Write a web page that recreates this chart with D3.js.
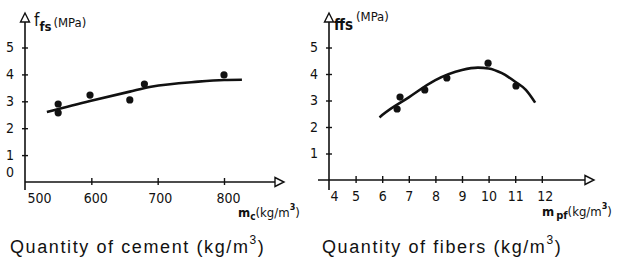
<!DOCTYPE html>
<html>
<head>
<meta charset="utf-8">
<script src="https://cdn.jsdelivr.net/npm/d3@7"></script>
<style>
  body { margin: 0; background: #fff; }
  svg { display: block; }
  .tick text { font-family: "DejaVu Sans Condensed", "Liberation Sans Narrow", sans-serif; font-size: 14px; fill: #111; }
  .lbl { font-family: "DejaVu Sans Condensed", "Liberation Sans", sans-serif; fill: #111; }
  .cap { font-family: "Liberation Sans", Arial, sans-serif; font-size: 18px; fill: #111; letter-spacing: 1.6px; }
</style>
</head>
<body>
<svg id="vis" width="622" height="260"></svg>
<script>
// cement panel
const cementX = [550, 550, 598, 658, 680, 800]
const cementY = [2.9, 2.57, 3.23, 3.05, 3.64, 3.98]
const cementFitX = [533, 598, 658, 690, 761, 800, 827]
const cementFitY = [2.6, 3.01, 3.36, 3.54, 3.73, 3.79, 3.8]
const cementTicks = [500, 600, 700, 800]

// fibers panel
const fibersX = [6.56, 6.67, 7.6, 8.43, 9.98, 11.03]
const fibersY = [2.68, 3.13, 3.4, 3.85, 4.41, 3.55]
const fibersFitX = [5.9, 6, 7, 8, 9, 9.6, 10, 10.5, 11, 11.4, 11.75]
const fibersFitY = [2.36, 2.45, 3.12, 3.77, 4.15, 4.24, 4.21, 4.03, 3.71, 3.4, 2.92]
const fibersTicks = [4, 5, 6, 7, 8, 9, 10, 11, 12]

const svg = d3.select('#vis')

function panel(o){
    const x = d3.scaleLinear().domain(o.xDomain).range(o.xRange)
    const y = d3.scaleLinear().domain([0, 5]).range(o.yRange)
    const x0 = x(o.xDomain[0]), y0 = y(0)
    const g = svg.append('g')

    // axis lines with open arrow heads
    g.append('line').attr('x1', o.xStart).attr('x2', o.xEnd).attr('y1', y0).attr('y2', y0)
        .attr('stroke', '#111').attr('stroke-width', 1.6)
    g.append('path')
        .attr('d', `M${o.xEnd},${y0 - 4.5}L${o.xEnd + 9},${y0}L${o.xEnd},${y0 + 4.5}Z`)
        .attr('fill', '#fff').attr('stroke', '#111').attr('stroke-width', 1.4)
    g.append('line').attr('x1', x0).attr('x2', x0).attr('y1', 190).attr('y2', 22)
        .attr('stroke', '#111').attr('stroke-width', 1.6)
    g.append('path')
        .attr('d', `M${x0 - 4.5},22L${x0},13L${x0 + 4.5},22Z`)
        .attr('fill', '#fff').attr('stroke', '#111').attr('stroke-width', 1.4)

    // y axis ticks
    const ya = g.append('g').attr('transform', `translate(${x0},0)`)
        .call(d3.axisLeft(y).tickValues(o.yTicks).tickFormat(d3.format('d')).tickSizeOuter(0).tickPadding(5))
    ya.select('.domain').remove()
    ya.selectAll('.tick line').attr('x1', -3).attr('x2', 3).attr('stroke', '#111').attr('stroke-width', 1.4)
    ya.selectAll('.tick').filter(d => d === 0).select('line').remove()
    ya.selectAll('.tick').filter(d => d === 0).select('text').attr('dy', '-0.4em')

    // x axis ticks
    const xa = g.append('g').attr('transform', `translate(0,${y0})`)
        .call(d3.axisBottom(x).tickValues(o.xTicks).tickFormat(d3.format('d')).tickSizeOuter(0).tickPadding(5))
    xa.select('.domain').remove()
    xa.selectAll('.tick line').attr('y1', -4).attr('y2', 3).attr('stroke', '#111').attr('stroke-width', 1.4)
    xa.selectAll('.tick').filter(d => d === o.xDomain[0]).select('line').remove()
    xa.selectAll('.tick text').attr('dx', (d, i) => o.xDx[i])

    // fitted curve
    const fit = o.fitX.map((d, i) => [d, o.fitY[i]])
    g.append('path').datum(fit)
        .attr('d', d3.line().x(d => x(d[0])).y(d => y(d[1])).curve(d3.curveMonotoneX))
        .attr('fill', 'none').attr('stroke', '#111').attr('stroke-width', 2.6)

    // measured points
    g.selectAll('circle').data(o.px).join('circle')
        .attr('cx', d => x(d)).attr('cy', (d, i) => y(o.py[i])).attr('r', 3.6).attr('fill', '#111')
    return g
}

const left = panel({
    xDomain: [500, 800], xRange: [25, 224], yRange: [182, 47.5],
    xStart: 25, xEnd: 275, yTicks: [0, 1, 2, 3, 4, 5],
    xTicks: cementTicks, xDx: [14, 4, 2, 4],
    fitX: cementFitX, fitY: cementFitY, px: cementX, py: cementY
})
const right = panel({
    xDomain: [4, 12], xRange: [329, 541.8], yRange: [180, 47.5],
    xStart: 318, xEnd: 585, yTicks: [1, 2, 3, 4, 5],
    xTicks: fibersTicks, xDx: [5, 0, 0, 0, 0, 0, 0, 0, 3],
    fitX: fibersFitX, fitY: fibersFitY, px: fibersX, py: fibersY
})

// y axis titles
let t = svg.append('text').attr('class', 'lbl').attr('x', 34).attr('y', 26)
t.append('tspan').attr('font-size', 17).text('f')
t.append('tspan').attr('font-size', 13).attr('font-weight', 'bold').attr('dy', 5).text('fs')
t.append('tspan').attr('font-size', 13).attr('dy', -4).attr('dx', 2).text('(MPa)')

t = svg.append('text').attr('class', 'lbl').attr('x', 334).attr('y', 30)
t.append('tspan').attr('font-size', 15).attr('font-weight', 'bold').text('ffs')
t.append('tspan').attr('font-size', 13).attr('dy', -9).attr('dx', 3).text('(MPa)')

// x axis titles
t = svg.append('text').attr('class', 'lbl').attr('x', 238).attr('y', 217).attr('font-size', 13).attr('font-weight', 'bold')
t.append('tspan').text('m')
t.append('tspan').attr('font-size', 10).attr('dy', 3).text('c')
t.append('tspan').attr('dy', -3).attr('font-weight', 'normal').text('(kg/m')
t.append('tspan').attr('font-size', 9).attr('dy', -7).text('3')
t.append('tspan').attr('dy', 7).attr('font-weight', 'normal').text(')')

t = svg.append('text').attr('class', 'lbl').attr('x', 542).attr('y', 216).attr('font-size', 13).attr('font-weight', 'bold')
t.append('tspan').text('m')
t.append('tspan').attr('font-size', 11).attr('dy', 3).attr('dx', 2).text('pf')
t.append('tspan').attr('dy', -3).attr('font-weight', 'normal').text('(kg/m')
t.append('tspan').attr('font-size', 9).attr('dy', -7).text('3')
t.append('tspan').attr('dy', 7).attr('font-weight', 'normal').text(')')

// captions
function caption(x, txt){
    const c = svg.append('text').attr('class', 'cap').attr('x', x).attr('y', 253)
    c.append('tspan').text(txt + ' (kg/m')
    c.append('tspan').attr('font-size', 12).attr('dy', -9).text('3')
    c.append('tspan').attr('dy', 9).text(')')
}
caption(10, 'Quantity of cement')
caption(322, 'Quantity of fibers')
</script>
</body>
</html>
